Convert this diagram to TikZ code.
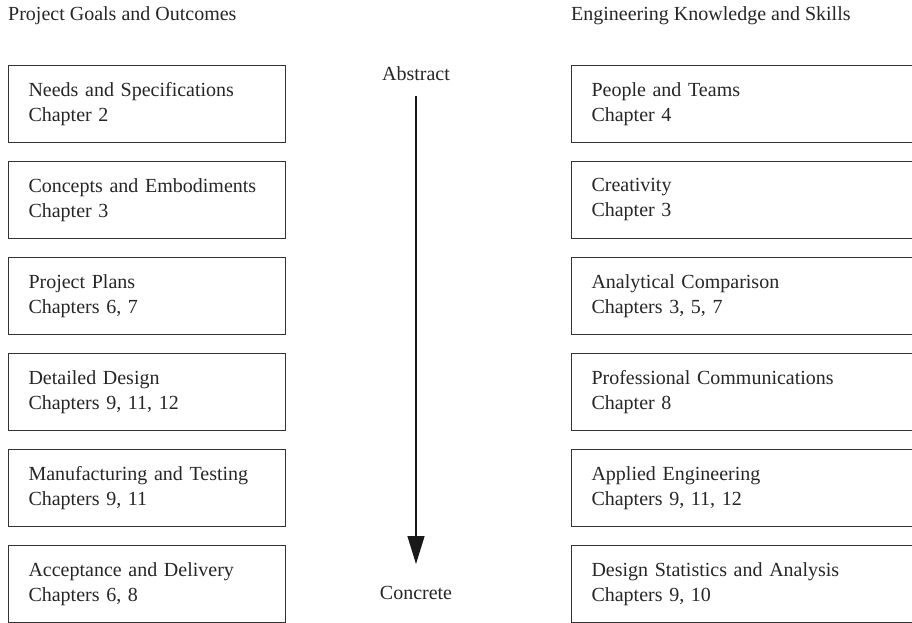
\documentclass[tikz,border=0pt]{standalone}
\usepackage{fontspec}
\setmainfont{Liberation Serif}
\usetikzlibrary{arrows.meta}
\begin{document}
\begin{tikzpicture}[x=1pt,y=-1pt,
  every node/.style={font=\fontsize{20}{25}\selectfont, text=black!85},
  chapbox/.style={draw=black!80, line width=1pt, rectangle, anchor=north west,
    minimum height=77pt, text width=237pt, inner xsep=20pt, inner ysep=0pt, align=left},
  skillbox/.style={chapbox, text width=320pt},
  heading/.style={anchor=base west, inner sep=0pt},
  scalelabel/.style={anchor=base, inner sep=0pt}]
\useasboundingbox (0,0) rectangle (912,622);
\clip (0,0) rectangle (912,622);
% column headings
\node[heading] (hl) at (8,20) {Project Goals and Outcomes};
\node[heading] (hr) at (571,20) {Engineering Knowledge and Skills};
% project goals and outcomes
\node[chapbox] (g1) at (8,65)  {Needs and Specifications\\Chapter 2};
\node[chapbox] (g2) at (8,161) {Concepts and Embodiments\\Chapter 3};
\node[chapbox] (g3) at (8,257) {Project Plans\\Chapters 6, 7};
\node[chapbox] (g4) at (8,353) {Detailed Design\\Chapters 9, 11, 12};
\node[chapbox] (g5) at (8,449) {Manufacturing and Testing\\Chapters 9, 11};
\node[chapbox] (g6) at (8,545) {Acceptance and Delivery\\Chapters 6, 8};
% engineering knowledge and skills
\node[skillbox] (s1) at (571,65)  {People and Teams\\Chapter 4};
\node[skillbox] (s2) at (571,161) {Creativity\\Chapter 3};
\node[skillbox] (s3) at (571,257) {Analytical Comparison\\Chapters 3, 5, 7};
\node[skillbox] (s4) at (571,353) {Professional Communications\\Chapter 8};
\node[skillbox] (s5) at (571,449) {Applied Engineering\\Chapters 9, 11, 12};
\node[skillbox] (s6) at (571,545) {Design Statistics and Analysis\\Chapters 9, 10};
% abstract-to-concrete scale
\node[scalelabel] (abs) at (416,80) {Abstract};
\node[scalelabel] (con) at (416,599) {Concrete};
\draw[line width=1.3pt, black!90, -{Triangle[length=28pt, width=17pt]}]
  ([yshift=-16pt]abs.base) -- ([yshift=35pt]con.base);
\end{tikzpicture}
\end{document}
